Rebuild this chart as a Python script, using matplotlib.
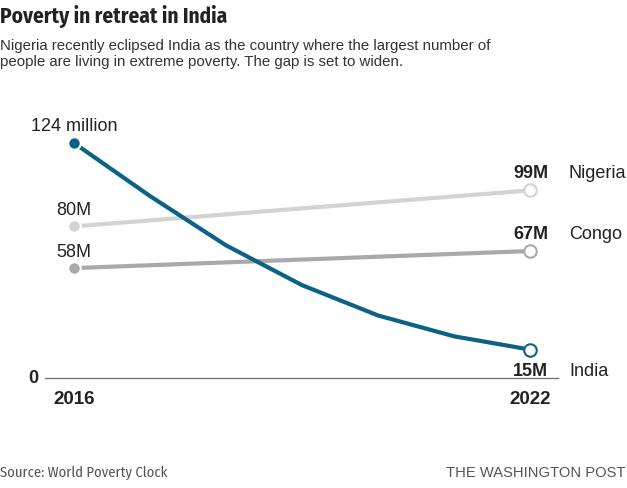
import matplotlib
matplotlib.use("Agg")
import matplotlib.pyplot as plt

years_india = [2016, 2017, 2018, 2019, 2020, 2021, 2022]
india = [124, 96, 70, 49, 33, 22, 15]
years_ends = [2016, 2022]
nigeria = [80, 99]
congo = [58, 67]

INDIA_C = "#0b6186"
NIGERIA_C = "#d3d3d3"
CONGO_C = "#a9a9a9"
TEXT_C = "#222222"

BODY = ["Liberation Sans", "DejaVu Sans"]
NARROW = ["Fira Sans Condensed", "Liberation Sans", "DejaVu Sans"]
plt.rcParams["font.family"] = BODY

W, H = 627, 489
fig = plt.figure(figsize=(W / 100, H / 100), dpi=100)
ax = fig.add_axes([0, 0, 1, 1])
ax.axis("off")

# pixel layout: 2016 -> x=74, 2022 -> x=530, value 0 -> 110px from bottom
px_per_year = (530 - 74) / 6
px_per_unit = (379 - 144) / 124
ax.set_xlim(2016 - 74 / px_per_year, 2016 + (W - 74) / px_per_year)
ax.set_ylim(-110 / px_per_unit, (H - 110) / px_per_unit)

# baseline
ax.plot([2016 - 29 / px_per_year, 2016 + (558 - 74) / px_per_year], [0, 0],
        color="#777777", lw=1, zorder=1)

def draw(xs, ys, c):
    ax.plot(xs, ys, color=c, lw=3, solid_capstyle="round", zorder=2)
    ax.plot(xs[0], ys[0], "o", ms=9, mfc=c, mec="white", mew=1.5, zorder=3)
    ax.plot(xs[-1], ys[-1], "o", ms=9, mfc="white", mec=c, mew=1.5, zorder=3)

draw(years_ends, nigeria, NIGERIA_C)
draw(years_ends, congo, CONGO_C)
draw(years_india, india, INDIA_C)

# left labels
for y, lab in [(india[0], "124 million"), (nigeria[0], f"{nigeria[0]}M"), (congo[0], f"{congo[0]}M")]:
    ax.annotate(lab, (2016, y), xytext=(0, 17), textcoords="offset pixels",
                ha="center", va="center", fontsize=13, color=TEXT_C)

# right labels
for y, name, dy in [(nigeria[-1], "Nigeria", 18), (congo[-1], "Congo", 18), (india[-1], "India", -21)]:
    ax.annotate(f"{y}M", (2022, y), xytext=(18, dy), textcoords="offset pixels",
                ha="right", va="center", fontsize=13, fontweight="bold", color=TEXT_C)
    ax.annotate(name, (2022, y), xytext=(39, dy), textcoords="offset pixels",
                ha="left", va="center", fontsize=13, color=TEXT_C)

# axis labels
ax.annotate("0", (2016, 0), xytext=(-41, 0), textcoords="offset pixels",
            ha="center", va="center", fontsize=13, fontweight="bold", color=TEXT_C)
for yr in years_ends:
    ax.annotate(str(yr), (yr, 0), xytext=(0, -21), textcoords="offset pixels",
                ha="center", va="center", fontsize=13.5, fontweight="bold", color=TEXT_C)

fig.text(0, 1 - 17 / H, "Poverty in retreat in India", ha="left", va="center",
         fontsize=15.3, fontweight="bold", color=TEXT_C, family=NARROW)
fig.text(0, 1 - 46 / H, "Nigeria recently eclipsed India as the country where the largest number of",
         ha="left", va="center", fontsize=10.8, color="#333333")
fig.text(0, 1 - 62 / H, "people are living in extreme poverty. The gap is set to widen.",
         ha="left", va="center", fontsize=10.8, color="#333333")

fig.text(0, 1 - 473 / H, "Source: World Poverty Clock", ha="left", va="center",
         fontsize=10.5, color="#555555", family=NARROW)
fig.text(1 - 1 / W, 1 - 473 / H, "THE WASHINGTON POST", ha="right", va="center",
         fontsize=10.6, color="#555555", family=BODY)

fig.savefig("out.png", dpi=100, facecolor="white")
